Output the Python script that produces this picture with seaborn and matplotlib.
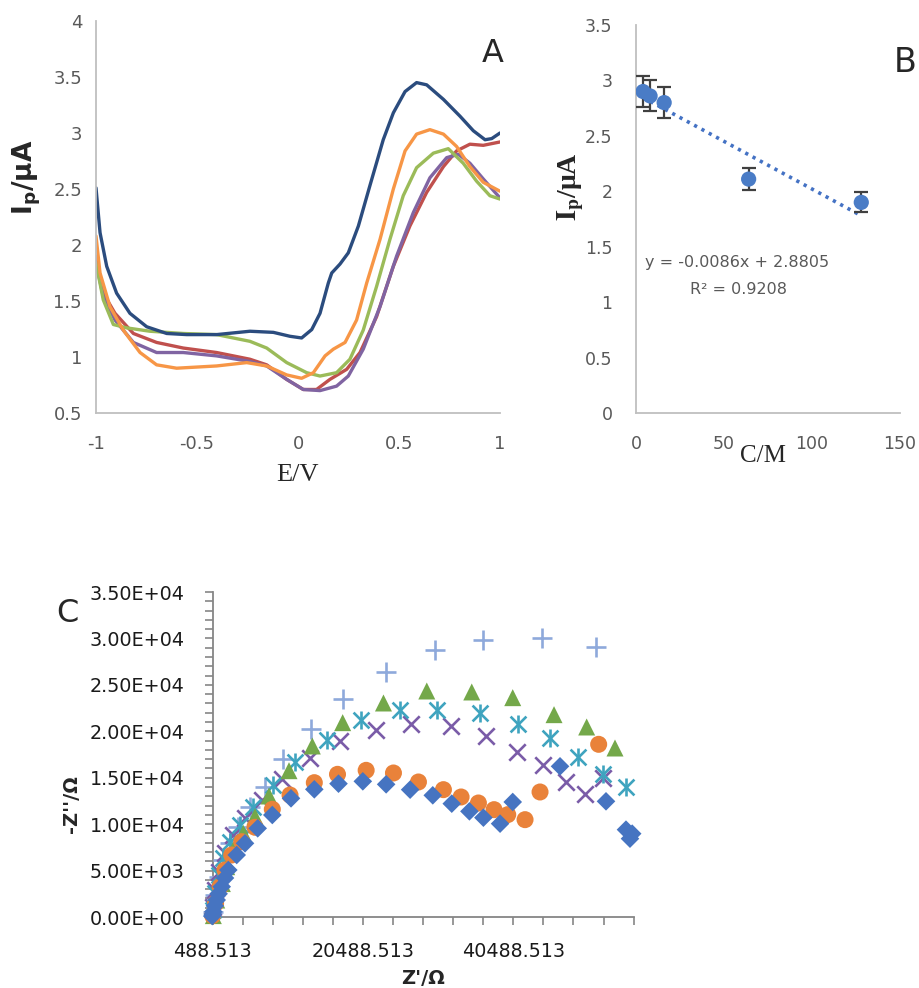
"""
Recreation of the three-panel electrochemistry figure (DPV curves, Ip vs C, Nyquist plot).
"""

import numpy as np
import pandas as pd
import matplotlib
matplotlib.use("Agg")
import matplotlib.pyplot as plt
import seaborn as sns
from matplotlib.ticker import FixedLocator, FuncFormatter

sns.set_theme(style="white")
plt.rcParams['font.family'] = ['DejaVu Sans']
plt.rcParams['axes.unicode_minus'] = False

# ---------------- panel A: DPV curves (E/V vs Ip/uA) ----------------
E_navy = [-1, -0.98, -0.947, -0.898, -0.832, -0.749, -0.65, -0.551, -0.403, -0.238, -0.122,
          -0.04, 0.018, 0.068, 0.109, 0.15, 0.167, 0.208, 0.249, 0.299, 0.356, 0.422, 0.472,
          0.53, 0.587, 0.637, 0.72, 0.802, 0.868, 0.926, 0.959, 1.0]
I_navy = [2.51, 2.11, 1.81, 1.57, 1.39, 1.27, 1.21, 1.20, 1.20, 1.23, 1.22,
          1.185, 1.17, 1.245, 1.39, 1.66, 1.75, 1.83, 1.93, 2.17, 2.53, 2.94, 3.18,
          3.37, 3.45, 3.43, 3.30, 3.15, 3.02, 2.94, 2.95, 3.0]

E_orange = [-1, -0.98, -0.931, -0.865, -0.782, -0.7, -0.601, -0.403, -0.254, -0.155, -0.056,
            0.018, 0.076, 0.134, 0.175, 0.233, 0.29, 0.34, 0.406, 0.472, 0.53, 0.587, 0.653,
            0.72, 0.785, 0.851, 0.917, 1.0]
I_orange = [2.08, 1.75, 1.45, 1.24, 1.04, 0.93, 0.90, 0.92, 0.95, 0.92, 0.84,
            0.81, 0.86, 1.01, 1.07, 1.13, 1.33, 1.66, 2.05, 2.50, 2.84, 2.99, 3.03,
            2.99, 2.88, 2.70, 2.56, 2.48]

E_green = [-1, -0.964, -0.914, -0.848, -0.733, -0.568, -0.403, -0.238, -0.155, -0.056, 0.043,
           0.109, 0.191, 0.257, 0.323, 0.389, 0.455, 0.521, 0.587, 0.67, 0.744, 0.818, 0.884,
           0.95, 1.0]
I_green = [1.84, 1.51, 1.29, 1.26, 1.23, 1.21, 1.20, 1.14, 1.08, 0.95, 0.86,
           0.83, 0.86, 0.98, 1.24, 1.63, 2.05, 2.44, 2.69, 2.82, 2.86, 2.73, 2.57,
           2.44, 2.41]

E_red = [-1, -0.964, -0.906, -0.815, -0.7, -0.568, -0.403, -0.238, -0.155, -0.056, 0.026,
         0.092, 0.158, 0.241, 0.307, 0.389, 0.472, 0.554, 0.637, 0.72, 0.785, 0.851, 0.917, 1.0]
I_red = [1.90, 1.57, 1.39, 1.21, 1.13, 1.08, 1.04, 0.98, 0.93, 0.80, 0.71,
         0.71, 0.80, 0.89, 1.04, 1.36, 1.81, 2.17, 2.47, 2.70, 2.84, 2.90, 2.89, 2.92]

E_purple = [-1, -0.964, -0.906, -0.815, -0.7, -0.568, -0.403, -0.238, -0.155, -0.056, 0.026,
            0.109, 0.191, 0.249, 0.323, 0.406, 0.488, 0.571, 0.653, 0.736, 0.794, 0.851,
            0.917, 1.0]
I_purple = [1.84, 1.54, 1.33, 1.13, 1.04, 1.04, 1.01, 0.96, 0.92, 0.80, 0.71,
            0.70, 0.74, 0.83, 1.07, 1.45, 1.90, 2.29, 2.60, 2.78, 2.81, 2.73,
            2.59, 2.42]

# ---------------- panel B: Ip vs concentration ----------------
conc = [4, 8, 16, 64, 128]
ip = [2.90, 2.86, 2.80, 2.11, 1.90]
ip_err = [0.14, 0.14, 0.14, 0.10, 0.09]
fit_slope = -0.0086
fit_intercept = 2.8805
fit_r2 = 0.9208

# ---------------- panel C: Nyquist plot ----------------
z_diamond = [450, 520, 595, 800, 1047, 1300, 1712, 2150, 2590, 3707, 4811, 6500, 8442, 10929,
             14028, 17245, 20479, 23580, 26769, 29781, 32307, 34655, 36515, 38730, 40414,
             46704, 52818, 55476, 56007, 56300]
zi_diamond = [100, 300, 571, 1200, 1831, 2500, 3263, 4200, 5062, 6677, 7935, 9550, 10985, 12780,
              13750, 14360, 14611, 14288, 13714, 13104, 12206, 11380, 10698, 10052, 12386,
              16227, 12457, 9406, 8437, 8975]

z_circle = [500, 900, 1500, 2151, 3042, 4372, 6141, 8442, 10796, 14028, 17112, 20922, 24554,
            27877, 31199, 33547, 35851, 37933, 39749, 42052, 44046, 51843]
zi_circle = [150, 1470, 3263, 5062, 6677, 8110, 9660, 11600, 13139, 14467, 15365, 15796, 15509,
             14540, 13714, 12924, 12278, 11560, 11021, 10483, 13463, 18596]

z_triangle = [600, 1050, 1800, 2377, 3255, 4585, 6141, 8003, 10663, 13762, 17800, 23225, 28984,
              34965, 40414, 45907, 50248, 54014]
zi_triangle = [150, 1830, 3600, 5417, 7216, 9014, 10802, 13032, 15757, 18417, 20930, 23048,
               24340, 24233, 23622, 21791, 20463, 18201]

z_star = [550, 850, 1300, 1925, 2816, 4146, 5915, 8575, 11461, 15677, 20213, 25440, 30402,
          36072, 41167, 45375, 49141, 52463, 55476]
zi_star = [750, 2540, 4500, 6322, 8110, 9908, 11880, 14216, 16726, 19063, 21181, 22330, 22330,
           21971, 20822, 19314, 17232, 15365, 14001]

z_cross = [500, 880, 1400, 2151, 3255, 4811, 7032, 9772, 13455, 17400, 22251, 26858, 32174,
           36870, 41034, 44489, 47502, 50027, 52463]
zi_cross = [1100, 2900, 4900, 6860, 8831, 10630, 12601, 14830, 17092, 18950, 20176, 20750,
            20535, 19458, 17771, 16335, 14540, 13211, 15006]

z_plus = [500, 850, 1300, 1925, 2816, 3920, 5476, 7471, 9905, 13600, 17800, 23580, 30092,
          36515, 44312, 51489]
zi_plus = [570, 2360, 4330, 6140, 7935, 9725, 11880, 14033, 16984, 20215, 23500, 26387, 28792,
           29797, 30084, 29079]

W, H = 919, 988
fig = plt.figure(figsize=(W / 100, H / 100), dpi=100)


def box(x0, y0, x1, y1):
    """Pixel box (left, top, right, bottom) -> axes rect in figure fraction."""
    return [x0 / W, 1 - y1 / H, (x1 - x0) / W, (y1 - y0) / H]


def ftext(x, y, s, **kw):
    fig.text(x / W, 1 - y / H, s, ha='center', va='center', **kw)


def excel_axes(ax, color='#BFBFBF'):
    for side in ['top', 'right']:
        ax.spines[side].set_visible(False)
    for side in ['left', 'bottom']:
        ax.spines[side].set_color(color)
        ax.spines[side].set_linewidth(1.3)


g = FuncFormatter(lambda v, p: f"{v:g}")

# ---- A ----
axA = fig.add_axes(box(96, 21, 500, 413))
curves = [(E_red, I_red, '#C0504D'), (E_purple, I_purple, '#8064A2'),
          (E_green, I_green, '#9BBB59'), (E_orange, I_orange, '#F79646'),
          (E_navy, I_navy, '#2B4C7E')]
for e, i, c in curves:
    df = pd.DataFrame({'E': e, 'I': i})
    sns.lineplot(data=df, x='E', y='I', color=c, lw=2.4, sort=False, estimator=None, ax=axA)
axA.set_xlim(-1, 1)
axA.set_ylim(0.5, 4)
axA.set_xticks([-1, -0.5, 0, 0.5, 1])
axA.set_yticks(np.arange(0.5, 4.01, 0.5))
axA.xaxis.set_major_formatter(g)
axA.yaxis.set_major_formatter(g)
axA.tick_params(axis='x', length=0, pad=16, labelsize=13, labelcolor='#595959')
axA.tick_params(axis='y', length=0, pad=10, labelsize=13, labelcolor='#595959')
axA.set_xlabel('')
axA.set_ylabel('')
excel_axes(axA)

# ---- B ----
axB = fig.add_axes(box(636, 25, 900, 413))
fit_x = np.array([min(conc), max(conc)])
axB.plot(fit_x, fit_slope * fit_x + fit_intercept, color='#4472C4', lw=2.6,
         linestyle=(0, (0.9, 1.4)), zorder=2)
axB.errorbar(conc, ip, yerr=ip_err, fmt='none', ecolor='#404040', elinewidth=1.6,
             capsize=5, capthick=1.6, zorder=3)
sns.scatterplot(x=conc, y=ip, color='#4A7CC6', s=120, edgecolor='none', zorder=4, ax=axB)
axB.set_xlim(0, 150)
axB.set_ylim(0, 3.5)
axB.set_xticks([0, 50, 100, 150])
axB.set_yticks(np.arange(0, 3.51, 0.5))
axB.xaxis.set_major_formatter(g)
axB.yaxis.set_major_formatter(g)
axB.tick_params(axis='x', length=0, pad=16, labelsize=12.5, labelcolor='#595959')
axB.tick_params(axis='y', length=0, pad=17, labelsize=12.5, labelcolor='#595959')
excel_axes(axB)
ftext(737, 263, f"y = {fit_slope}x + {fit_intercept}", fontsize=11.5, color='#595959')
ftext(738, 289, f"R² = {fit_r2}", fontsize=11.5, color='#595959')

# ---- C ----
axC = fig.add_axes(box(212.5, 592, 633.6, 917))
lw_m = 1.9
sns.scatterplot(x=z_plus, y=zi_plus, marker='+', s=190, color='#8EA9DB', linewidth=lw_m,
                ax=axC, zorder=3, clip_on=False)
sns.scatterplot(x=z_cross, y=zi_cross, marker='x', s=140, color='#7A5CA8', linewidth=lw_m,
                ax=axC, zorder=4, clip_on=False)
sns.scatterplot(x=z_star, y=zi_star, marker='x', s=130, color='#3FA4BF', linewidth=lw_m,
                ax=axC, zorder=5, clip_on=False)
sns.scatterplot(x=z_star, y=zi_star, marker='|', s=170, color='#3FA4BF', linewidth=lw_m,
                ax=axC, zorder=5, clip_on=False)
sns.scatterplot(x=z_triangle, y=zi_triangle, marker='^', s=150, color='#74A84A',
                edgecolor='none', ax=axC, zorder=6, clip_on=False)
sns.scatterplot(x=z_circle, y=zi_circle, marker='o', s=150, color='#E9823A',
                edgecolor='none', ax=axC, zorder=7, clip_on=False)
sns.scatterplot(x=z_diamond, y=zi_diamond, marker='D', s=90, color='#4674C1',
                edgecolor='none', ax=axC, zorder=8, clip_on=False)

x0 = 488.513
axC.set_xlim(x0, x0 + 56000)
axC.set_ylim(0, 35000)
axC.xaxis.set_major_locator(FixedLocator([x0, x0 + 20000, x0 + 40000]))
axC.xaxis.set_minor_locator(FixedLocator([x0 + 4000 * k for k in range(15)]))
axC.yaxis.set_major_locator(FixedLocator(np.arange(0, 35001, 5000)))
axC.yaxis.set_minor_locator(FixedLocator(np.arange(0, 35001, 1000)))
axC.xaxis.set_major_formatter(FuncFormatter(lambda v, p: f"{v:.3f}"))
axC.yaxis.set_major_formatter(FuncFormatter(lambda v, p: f"{v:.2E}"))
axC.tick_params(axis='both', which='both', direction='out', length=6, width=1.2,
                color='#868686', labelsize=13.8, labelcolor='#1A1A1A',
                bottom=True, left=True)
axC.tick_params(axis='x', which='major', pad=12)
axC.tick_params(axis='y', which='major', pad=14)
excel_axes(axC, color='#868686')

# ---- labels ----
ftext(27, 177, r'$\mathbf{I_p}$/μA', fontsize=19, fontweight='bold', rotation=90,
      math_fontfamily='dejavusans')
ftext(297, 475, 'E/V', fontsize=19, family='Liberation Serif')
ftext(493, 54, 'A', fontsize=23)
ftext(571, 187, r'$\mathbf{I_p}$/μA', fontsize=20, fontweight='bold', rotation=90,
      family='Liberation Serif', math_fontfamily='stix')
ftext(763, 456, 'C/M', fontsize=18, family='Liberation Serif')
ftext(905, 62, 'B', fontsize=24)
ftext(67, 613, 'C', fontsize=23)
ftext(72, 804, "-Z''/Ω", fontsize=14, fontweight='bold', rotation=90)
ftext(423, 978, "Z'/Ω", fontsize=14, fontweight='bold')

fig.savefig('out.png', dpi=100)
